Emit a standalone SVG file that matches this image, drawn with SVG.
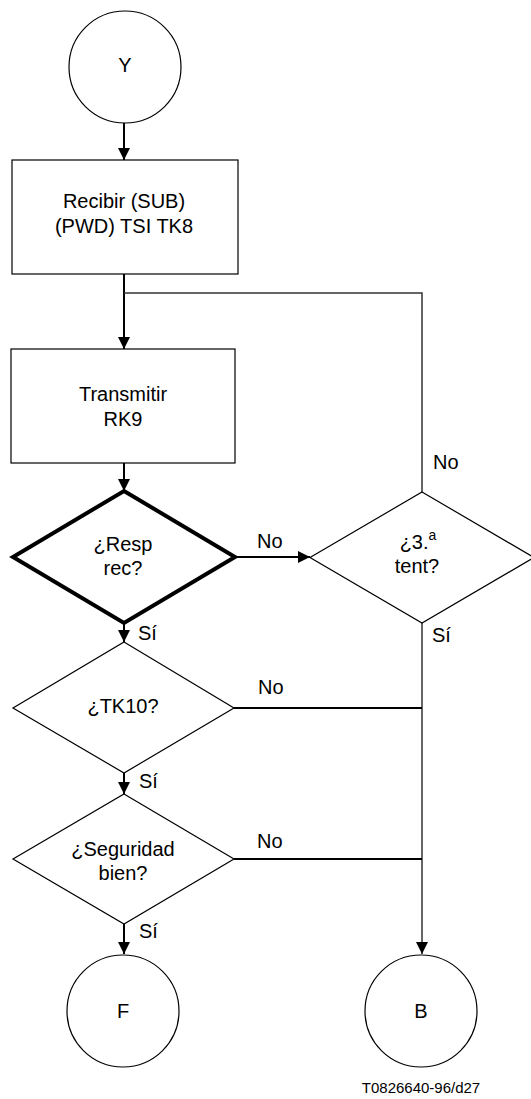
<svg xmlns="http://www.w3.org/2000/svg" width="531" height="1099" viewBox="0 0 531 1099">
<style>
.n{fill:#fff;stroke:#000;stroke-width:1.2}
.thick{fill:#fff;stroke:#000;stroke-width:4}
.c{fill:none;stroke:#000;stroke-width:2}
.g{fill:none;stroke:#333;stroke-width:1.5}
text{font-family:"Liberation Sans",Arial,sans-serif;font-size:20px;fill:#000}
.m{text-anchor:middle}
.cap{font-size:15px}
</style>
<defs>
<marker id="ah" markerUnits="userSpaceOnUse" markerWidth="14" markerHeight="14" refX="12" refY="6" orient="auto">
<path d="M0,0 L12,6 L0,12 Z" fill="#000"/>
</marker>
</defs>
<g id="connectors">
<line class="c" x1="124" y1="123" x2="124" y2="160" marker-end="url(#ah)"/>
<line class="c" x1="124" y1="274" x2="124" y2="349" marker-end="url(#ah)"/>
<polyline class="g" points="124,293 422,293 422,492"/>
<line class="c" x1="124" y1="463" x2="124" y2="491" marker-end="url(#ah)"/>
<line class="c" x1="236" y1="557" x2="310" y2="557" marker-end="url(#ah)"/>
<line class="c" x1="124" y1="623" x2="124" y2="642" marker-end="url(#ah)"/>
<line class="c" x1="124" y1="773" x2="124" y2="794" marker-end="url(#ah)"/>
<line class="c" x1="124" y1="924" x2="124" y2="954" marker-end="url(#ah)"/>
<line class="g" x1="422" y1="623" x2="422" y2="954" marker-end="url(#ah)"/>
<line class="c" x1="234" y1="708" x2="422" y2="708"/>
<line class="c" x1="234" y1="859" x2="422" y2="859"/>
<text x="257" y="548">No</text>
<text x="433" y="469">No</text>
<text x="138" y="640">Sí</text>
<text x="432" y="642">Sí</text>
<text x="258" y="694">No</text>
<text x="139" y="788">Sí</text>
<text x="257" y="848">No</text>
<text x="139" y="938">Sí</text>
</g>
<g id="Y">
<circle class="n" cx="125" cy="67" r="56"/>
<text class="m" x="125" y="72">Y</text>
</g>
<g id="recibir">
<rect class="n" x="12" y="160" width="226" height="114"/>
<text class="m" x="124" y="208">Recibir (SUB)</text>
<text class="m" x="124" y="233">(PWD) TSI TK8</text>
</g>
<g id="transmitir">
<rect class="n" x="11" y="349" width="224" height="114"/>
<text class="m" x="123" y="401">Transmitir</text>
<text class="m" x="123" y="426">RK9</text>
</g>
<g id="resp">
<polygon class="thick" points="124,491 235,557 124,623 13,557"/>
<text class="m" x="123" y="551">¿Resp</text>
<text class="m" x="123" y="575">rec?</text>
</g>
<g id="tent">
<polygon class="n" points="422,492 534,557.5 422,623 310,557.5"/>
<text class="m" x="418" y="549">¿3.<tspan font-size="14" dy="-9">a</tspan></text>
<text class="m" x="417" y="573">tent?</text>
</g>
<g id="tk10">
<polygon class="n" points="124,642 234,708 124,773 13,708"/>
<text class="m" x="123" y="713">¿TK10?</text>
</g>
<g id="seguridad">
<polygon class="n" points="124,794 234,859 124,924 13,859"/>
<text class="m" x="123" y="856">¿Seguridad</text>
<text class="m" x="123" y="880">bien?</text>
</g>
<g id="F">
<circle class="n" cx="123" cy="1011" r="56"/>
<text class="m" x="123" y="1018">F</text>
</g>
<g id="B">
<circle class="n" cx="421" cy="1011" r="56"/>
<text class="m" x="421" y="1018">B</text>
</g>
<text class="m cap" x="421" y="1093">T0826640-96/d27</text>
</svg>
